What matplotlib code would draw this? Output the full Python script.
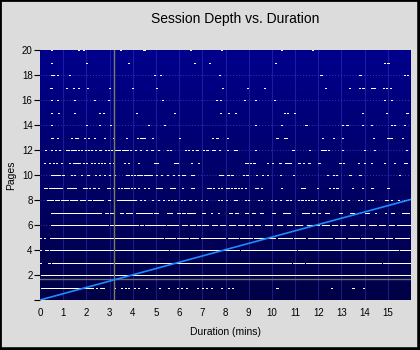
import numpy as np
import matplotlib.pyplot as plt
from matplotlib.lines import Line2D
from matplotlib.colors import LinearSegmentedColormap

# durations (mins) of single sessions, one list per page depth
dots_20 = [0.49, 1.66, 1.87, 3.47, 4.47, 4.52, 6.50, 7.84, 10.43, 11.77]
dots_19 = [0.49, 2.02, 3.82, 6.67, 7.32, 10.17, 14.84, 15.01]
dots_18 = [0.49, 0.54, 0.58, 0.75, 1.27, 4.94, 5.19, 7.75, 12.12, 13.80, 15.72, 15.84]
dots_17 = [0.45, 0.50, 1.14, 1.44, 1.66, 2.05, 3.00, 3.99, 5.03, 7.88, 8.96, 9.70, 12.33, 13.33,
           13.76, 13.93, 14.32, 14.41, 14.80, 14.93, 15.10]
dots_16 = [0.49, 0.75, 1.48, 2.35, 2.95, 5.29, 7.62, 7.80, 8.83, 9.31, 10.13, 14.84, 15.14]
dots_15 = [0.49, 0.79, 1.48, 2.56, 2.74, 4.16, 5.81, 7.80, 8.14, 8.44, 10.56, 10.69, 10.99, 13.89,
           14.93, 15.79, 15.85]
dots_14 = [0.49, 2.00, 2.56, 3.04, 4.68, 5.37, 9.31, 10.43, 11.47, 13.03, 13.24, 13.89, 14.28,
           15.14, 15.27, 15.71]
dots_13 = [0.49, 0.53, 0.75, 1.35, 1.53, 1.61, 1.92, 2.09, 2.35, 2.78, 3.17, 3.73, 4.21, 4.34, 4.42,
           4.51, 4.86, 6.02, 7.45, 7.62, 7.67, 8.10, 10.22, 10.56, 10.61, 12.20, 12.64, 13.03, 14.37,
           14.97, 15.06, 15.14, 15.62]
dots_12 = [0.22, 0.50, 0.65, 0.86, 1.15, 1.24, 1.35, 1.44, 1.51, 1.66, 1.80, 1.95, 2.09, 2.23, 2.38,
           2.59, 2.81, 2.95, 3.10, 3.24, 3.34, 3.44, 3.54, 3.65, 3.75, 3.89, 4.11, 4.32, 4.61, 4.83,
           5.12, 5.48, 5.62, 6.27, 6.41, 6.56, 6.77, 7.06, 7.20, 7.45, 7.54, 7.74, 8.07, 8.39, 8.49,
           9.31, 10.91, 11.61, 12.16, 12.29, 12.46, 13.03, 13.98, 14.41, 15.81]
dots_11 = [0.20, 0.42, 0.59, 0.71, 0.92, 1.28, 1.43, 1.53, 1.61, 1.71, 1.86, 2.00, 2.22, 2.36, 2.51,
           2.65, 2.80, 3.01, 3.16, 3.66, 3.80, 4.24, 4.96, 5.07, 5.82, 5.94, 6.54, 6.83, 8.86, 8.96,
           9.08, 9.19, 9.26, 9.83, 10.04, 10.35, 10.61, 10.69, 10.78, 11.17, 11.38, 11.60, 12.03,
           12.07, 12.94, 13.07, 13.72, 13.98, 14.29, 14.84, 15.27, 15.71, 15.81]
dots_10 = [0.49, 0.56, 0.66, 0.75, 0.84, 0.99, 1.35, 1.47, 1.79, 2.07, 2.39, 2.58, 2.80, 3.01, 3.23,
           3.73, 3.83, 3.95, 4.09, 4.21, 4.31, 4.38, 4.50, 4.60, 4.70, 4.81, 5.03, 5.25, 5.50, 5.75,
           5.97, 6.14, 6.25, 6.54, 6.61, 7.75, 7.85, 8.07, 8.14, 8.24, 8.31, 8.79, 8.89, 8.96, 9.35,
           9.60, 9.83, 10.39, 10.95, 12.38, 12.64, 12.77, 13.37, 13.76, 13.80, 15.49]
dots_9 = [0.20, 0.27, 0.42, 0.49, 0.56, 0.63, 0.71, 0.78, 0.85, 0.92, 1.18, 1.28, 1.35, 1.43, 1.53,
          1.90, 2.00, 2.15, 2.29, 2.36, 2.51, 2.91, 3.01, 3.16, 3.37, 3.52, 3.66, 3.73, 3.80, 3.95,
          4.09, 4.24, 4.52, 4.67, 5.03, 5.13, 5.25, 5.65, 5.78, 6.14, 6.54, 6.61, 7.23, 7.33, 7.48,
          7.69, 7.84, 8.05, 8.13, 8.27, 8.41, 8.56, 8.70, 8.85, 9.28, 9.39, 9.57, 10.40, 11.30, 11.40,
          11.95, 12.49, 12.64, 12.81, 13.46, 13.92, 14.32, 15.01]
dots_8 = [2.94, 3.01, 4.35, 4.52, 4.86, 5.10, 5.32, 5.53, 5.68, 5.82, 6.11, 6.25, 6.47, 6.69, 6.97,
          7.19, 7.69, 7.84, 8.05, 8.41, 8.49, 8.85, 8.99, 9.42, 9.54, 10.00, 10.17, 10.36, 10.65,
          10.79, 11.15, 11.30, 11.44, 11.58, 11.73, 11.87, 12.16, 12.31, 12.59, 12.74, 12.88, 13.03,
          13.31, 13.72, 13.85, 14.18, 14.32, 14.90, 14.97, 15.16, 15.48, 15.73]
dots_7 = [7.41, 7.69, 14.47, 14.90]
dots_5 = [0.03, 0.20]
dots_4 = [0.03, 0.23, 0.32]
dots_3 = [0.03]
dots_1 = [3.23, 3.52, 3.69, 3.80, 4.09, 4.24, 4.60, 5.17, 5.53, 5.94, 6.11, 6.33, 6.80, 7.00, 7.19,
          7.41, 7.81, 8.13, 8.30, 10.22, 12.59, 13.46, 13.53, 13.96]

# stretches where sessions overlap into a continuous band (start, end)
runs_8 = [(0.32, 0.56), (0.63, 0.81), (0.92, 1.21), (1.28, 1.61), (1.71, 1.93), (2.05, 2.22),
          (2.29, 2.72), (3.34, 4.12)]
runs_7 = [(0.46, 2.65), (2.80, 2.94), (3.01, 3.16), (3.44, 3.59), (3.69, 3.95), (4.16, 4.81),
          (4.93, 5.10), (5.46, 5.68), (5.89, 6.04), (6.14, 6.25), (6.33, 6.69), (6.97, 7.12),
          (8.13, 8.27), (8.41, 8.56), (8.85, 8.99), (9.14, 9.28), (9.50, 9.60), (10.00, 10.14),
          (10.50, 10.79), (11.30, 11.58), (11.73, 11.87), (11.99, 12.09), (12.31, 12.45),
          (12.88, 13.03), (13.39, 13.53), (13.67, 13.82), (14.03, 14.18), (15.12, 15.26), (15.62, 15.91)]
runs_6 = [(0.46, 2.94), (3.01, 3.30), (3.37, 3.66), (3.73, 4.24), (4.31, 4.45), (4.52, 5.03),
          (5.10, 5.39), (5.46, 5.68), (5.75, 5.97), (6.11, 6.33), (6.47, 6.69), (6.76, 6.90),
          (6.97, 7.26), (7.41, 7.62), (7.77, 7.98), (8.13, 8.41), (8.56, 8.78), (8.92, 9.14),
          (9.28, 9.50), (9.71, 10.00), (10.22, 10.43), (10.65, 10.86), (11.01, 11.30), (11.51, 11.73),
          (11.87, 12.02), (12.16, 12.45), (12.59, 12.81), (12.95, 13.17), (13.39, 13.67),
          (13.82, 14.03), (14.18, 14.47), (14.61, 14.90), (15.04, 15.26), (15.40, 15.69), (15.76, 15.98)]
runs_5 = [(0.42, 5.32), (5.39, 5.82), (5.89, 6.40), (6.47, 6.83), (6.95, 7.41), (7.48, 7.98),
          (8.10, 8.56), (8.63, 9.14), (9.25, 9.71), (9.86, 10.14), (10.26, 10.86), (10.94, 11.44),
          (11.56, 12.02), (12.09, 12.59), (12.71, 13.17), (13.29, 13.75), (13.86, 14.32),
          (14.44, 14.83), (14.93, 15.19), (15.30, 15.91)]
runs_4 = [(0.42, 5.50), (5.60, 6.20), (6.26, 8.60), (8.66, 9.10), (9.16, 10.26), (10.32, 11.06),
          (11.12, 11.64), (11.70, 12.06), (12.12, 13.36), (13.42, 13.96), (14.02, 14.30),
          (14.36, 14.88), (14.94, 15.46), (15.52, 15.98)]
runs_3 = [(0.35, 0.44), (0.50, 5.48), (5.54, 9.95), (10.01, 10.84), (10.90, 11.40), (11.46, 12.85),
          (12.91, 14.15), (14.21, 14.72), (14.78, 15.30), (15.36, 15.98)]
runs_2 = [(0.03, 8.50), (8.56, 15.98)]
runs_1 = [(0.03, 1.50), (1.56, 1.75), (1.80, 1.90), (1.95, 2.30), (2.40, 2.45), (2.60, 2.75)]

# averages and trend
mean_duration = 3.2
mean_pages = 1.68
trend_x = [0, 16]
trend_y = [0, 8.05]

x_ticks = list(range(16))
y_ticks = list(range(0, 21, 2))
y_labels = [''] + [str(v) for v in y_ticks[1:]]

page_dots = {20: dots_20, 19: dots_19, 18: dots_18, 17: dots_17, 16: dots_16, 15: dots_15,
             14: dots_14, 13: dots_13, 12: dots_12, 11: dots_11, 10: dots_10, 9: dots_9,
             8: dots_8, 7: dots_7, 5: dots_5, 4: dots_4, 3: dots_3, 1: dots_1}
page_runs = {8: runs_8, 7: runs_7, 6: runs_6, 5: runs_5, 4: runs_4, 3: runs_3, 2: runs_2, 1: runs_1}

plt.rcParams['font.family'] = ['Liberation Sans', 'DejaVu Sans']
fig = plt.figure(figsize=(4.2, 3.5), dpi=100, facecolor='#dcdcdc')
ax = fig.add_axes([40/420, 50/350, 371/420, 250/350])

# gradient background
cmap = LinearSegmentedColormap.from_list('bg', ['#000046', '#00008c'])
ax.imshow(np.linspace(0, 1, 256).reshape(-1, 1), origin='lower', cmap=cmap,
          extent=[0, 16, 0, 20], aspect='auto', zorder=0)

for xv in x_ticks[1:]:
    ax.axvline(xv, color='#4848d0', alpha=0.4, lw=0.8, zorder=1)
for yv in y_ticks[1:-1]:
    ax.axhline(yv, color='#3838b8', lw=0.7, ls=(0, (1, 2)), zorder=1)

half = 0.024
for p, xs in page_dots.items():
    xs = np.asarray(xs)
    ax.hlines(np.full(len(xs), p), xs - half, xs + half, color='white', lw=0.6,
              antialiased=False, zorder=2)
for p, rr in page_runs.items():
    rr = np.asarray(rr)
    ax.hlines(np.full(len(rr), p), rr[:, 0], rr[:, 1], color='white', lw=0.6,
              antialiased=False, zorder=2)

ax.axvline(mean_duration, color='#7c7c66', lw=1.0, zorder=3)
ax.axhline(mean_pages, color='#707070', lw=1.0, zorder=3)
ax.plot(trend_x, trend_y, color='#1e8cff', lw=1.2, zorder=4)

ax.set_xlim(0, 16)
ax.set_ylim(0, 20)
ax.set_xticks(x_ticks)
ax.set_xticklabels([str(v) for v in x_ticks])
ax.set_yticks(y_ticks)
ax.set_yticklabels(y_labels)
ax.tick_params(axis='x', length=0, pad=5.5, labelsize=7)
ax.tick_params(axis='y', length=4.3, width=0.8, pad=1, labelsize=7, color='black')
for s in ax.spines.values():
    s.set_visible(False)

ax.set_xlabel('Duration (mins)', fontsize=7.5, labelpad=7)
ax.set_ylabel('Pages', fontsize=7.5, labelpad=4)
fig.text(235/420, 1 - 18.5/350, 'Session Depth vs. Duration', fontsize=10,
         ha='center', va='center')

# window frame
fig.add_artist(Line2D([0, 0, 1], [0, 1, 1], transform=fig.transFigure, color='black', lw=2))
fig.add_artist(Line2D([0, 1, 1], [0, 0, 1], transform=fig.transFigure, color='black', lw=4))

fig.savefig('out.png', dpi=100, facecolor=fig.get_facecolor())
